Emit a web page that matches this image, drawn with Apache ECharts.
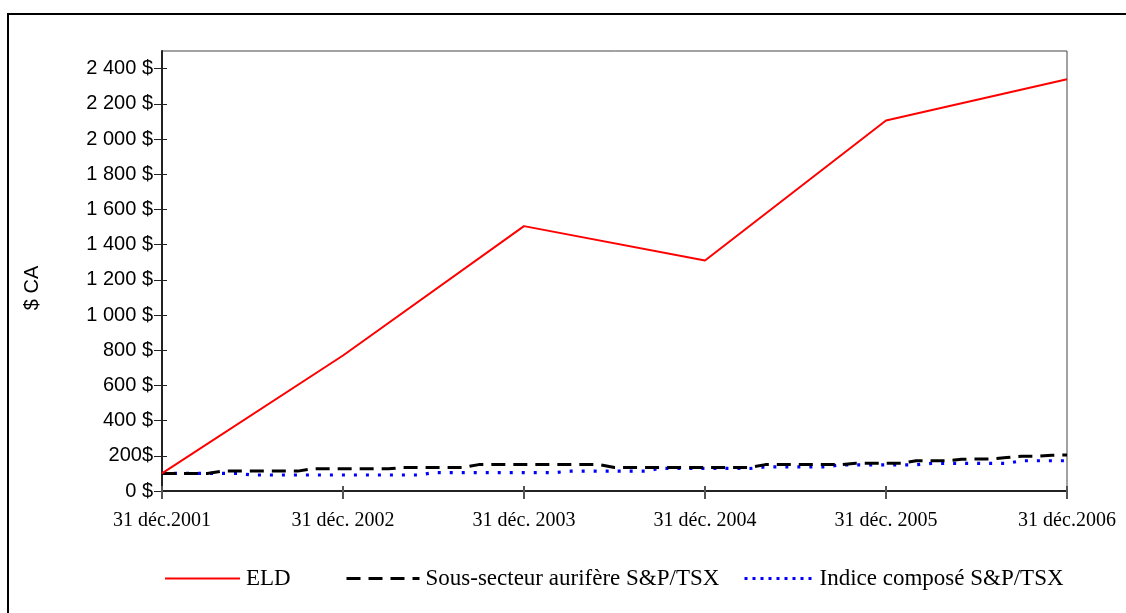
<!DOCTYPE html>
<html>
<head>
<meta charset="utf-8">
<script src="https://cdn.jsdelivr.net/npm/echarts@6/dist/echarts.min.js"></script>
<style>
  html, body { margin: 0; padding: 0; background: #fff; }
  #chart { width: 1126px; height: 613px; }
</style>
</head>
<body>
<div id="chart"></div>
<script>
// Year-end labels shown under the x axis (one every 12 months)
const tickLabels = ['31 déc.2001', '31 déc. 2002', '31 déc. 2003', '31 déc. 2004', '31 déc. 2005', '31 déc.2006'];

// Y axis labels, 0 to 2 400 in steps of 200
const yTickValues = [0, 200, 400, 600, 800, 1000, 1200, 1400, 1600, 1800, 2000, 2200, 2400];
const yTickLabels = ['0 $', '200$', '400 $', '600 $', '800 $', '1 000 $', '1 200 $', '1 400 $',
  '1 600 $', '1 800 $', '2 000 $', '2 200 $', '2 400 $'];

// ELD: value of a 100 $ investment at each year end
const eldYearEnd = [100, 770, 1505, 1310, 2105, 2340];

// S&P/TSX gold sub-index, monthly from Dec 2001 to Dec 2006
const goldMonthly = [
  100, 100, 100, 100, 113, 113, 113, 113, 113, 113, 126, 126,
  126, 126, 126, 126, 134, 134, 134, 134, 134, 150, 150, 150,
  150, 150, 150, 150, 150, 150, 134, 134, 134, 134, 134, 134,
  134, 134, 134, 134, 150, 150, 150, 150, 150, 150, 158, 158,
  158, 158, 172, 172, 172, 180, 182, 182, 190, 197, 197, 203,
  205
];

// S&P/TSX composite index, monthly from Dec 2001 to Dec 2006
const compositeMonthly = [
  100, 100, 100, 100, 100, 100, 91, 91, 91, 91, 91, 91,
  91, 91, 91, 91, 91, 91, 104, 104, 104, 104, 104, 104,
  104, 104, 104, 113, 113, 113, 113, 113, 113, 128, 128, 128,
  128, 128, 128, 128, 137, 137, 137, 137, 137, 149, 149, 149,
  149, 149, 149, 157, 157, 157, 157, 157, 157, 172, 172, 172,
  172
];

// Monthly categories Dec 2001 .. Dec 2006
const months = [];
for (let i = 0; i < goldMonthly.length; i++) {
  const y = 2001 + Math.floor((i + 11) / 12);
  const m = ((i + 11) % 12) + 1;
  months.push(y + '-' + (m < 10 ? '0' + m : m));
}

// ELD only has year-end values: place them on the monthly axis
const eldSeries = months.map((_, i) => (i % 12 === 0 ? eldYearEnd[i / 12] : null));

const sansFont = '"Liberation Sans", Arial, sans-serif';
const serifFont = '"Liberation Serif", "Times New Roman", serif';

const chart = echarts.init(document.getElementById('chart'), null, { renderer: 'canvas' });

// One legend block per series so each entry sits at its own place
function legendBlock(left, width, name, lineStyle) {
  return {
    left: left, top: 567, padding: 0,
    itemWidth: width, itemHeight: 14, itemGap: 0,
    textStyle: { fontFamily: serifFont, fontSize: 23, color: '#000', padding: [0, 0, 0, 1] },
    itemStyle: { opacity: 0 },
    data: [{ name: name, itemStyle: { opacity: 0 }, lineStyle: lineStyle }]
  };
}

chart.setOption({
  animation: false,
  backgroundColor: '#ffffff',
  grid: {
    left: 162, right: 59, top: 51, bottom: 122,
    show: true, borderColor: '#444', borderWidth: 1, backgroundColor: 'transparent'
  },
  xAxis: [
    {
      type: 'category',
      data: months,
      boundaryGap: false,
      axisLine: { lineStyle: { color: '#222', width: 2 } },
      axisTick: { interval: 11, inside: false, length: 8, lineStyle: { color: '#555', width: 2 } },
      axisLabel: {
        interval: 11,
        margin: 20,
        color: '#000',
        fontFamily: serifFont,
        fontSize: 20,
        formatter: (v, idx) => tickLabels[idx / 12]
      },
      splitLine: { show: false }
    },
    {
      type: 'category',
      data: months,
      boundaryGap: false,
      position: 'bottom',
      axisLine: { show: false },
      axisTick: { interval: 11, inside: true, length: 5, lineStyle: { color: '#555', width: 2 } },
      axisLabel: { show: false },
      splitLine: { show: false }
    }
  ],
  yAxis: [
    {
      type: 'value',
      min: 0,
      max: 2500,
      axisLine: { show: true, lineStyle: { color: '#222', width: 2 } },
      axisTick: { show: true, length: 8, customValues: yTickValues, lineStyle: { color: '#222', width: 1 } },
      axisLabel: {
        customValues: yTickValues,
        margin: 9,
        color: '#000',
        fontFamily: sansFont,
        fontSize: 20,
        formatter: (v) => yTickLabels[yTickValues.indexOf(v)]
      },
      splitLine: { show: false }
    },
    {
      type: 'value',
      min: 0,
      max: 2500,
      position: 'left',
      axisLine: { show: false },
      axisTick: { show: true, inside: true, length: 5, customValues: yTickValues, lineStyle: { color: '#222', width: 1 } },
      axisLabel: { show: false },
      splitLine: { show: false }
    }
  ],
  legend: [
    legendBlock(164, 75, 'ELD', { color: '#ff0000', width: 2, type: 'solid' }),
    legendBlock(345, 73, 'Sous-secteur aurifère S&P/TSX', { color: '#000000', width: 3, type: [14, 8] }),
    legendBlock(743, 69, 'Indice composé S&P/TSX', { color: '#0000ff', width: 3, type: [3, 5] })
  ],
  graphic: [
    {
      type: 'rect',
      shape: { x: 8, y: 14, width: 1200, height: 700 },
      style: { fill: 'transparent', stroke: '#000', lineWidth: 2 },
      silent: true
    },
    {
      type: 'text',
      x: 32, y: 288,
      rotation: Math.PI / 2,
      style: {
        text: '$ CA',
        fontFamily: sansFont,
        fontSize: 20,
        fill: '#000',
        align: 'center',
        verticalAlign: 'middle'
      },
      silent: true
    }
  ],
  series: [
    {
      name: 'ELD',
      type: 'line',
      data: eldSeries,
      connectNulls: true,
      symbol: 'none',
      lineStyle: { color: '#ff0000', width: 2 },
      itemStyle: { color: '#ff0000' },
      z: 3
    },
    {
      name: 'Sous-secteur aurifère S&P/TSX',
      type: 'line',
      data: goldMonthly,
      symbol: 'none',
      lineStyle: { color: '#000000', width: 3, type: [14, 8] },
      itemStyle: { color: '#000000' },
      z: 2
    },
    {
      name: 'Indice composé S&P/TSX',
      type: 'line',
      data: compositeMonthly,
      symbol: 'none',
      lineStyle: { color: '#0000ff', width: 3.2, type: [3, 9] },
      itemStyle: { color: '#0000ff' },
      z: 1
    }
  ]
});
</script>
</body>
</html>
